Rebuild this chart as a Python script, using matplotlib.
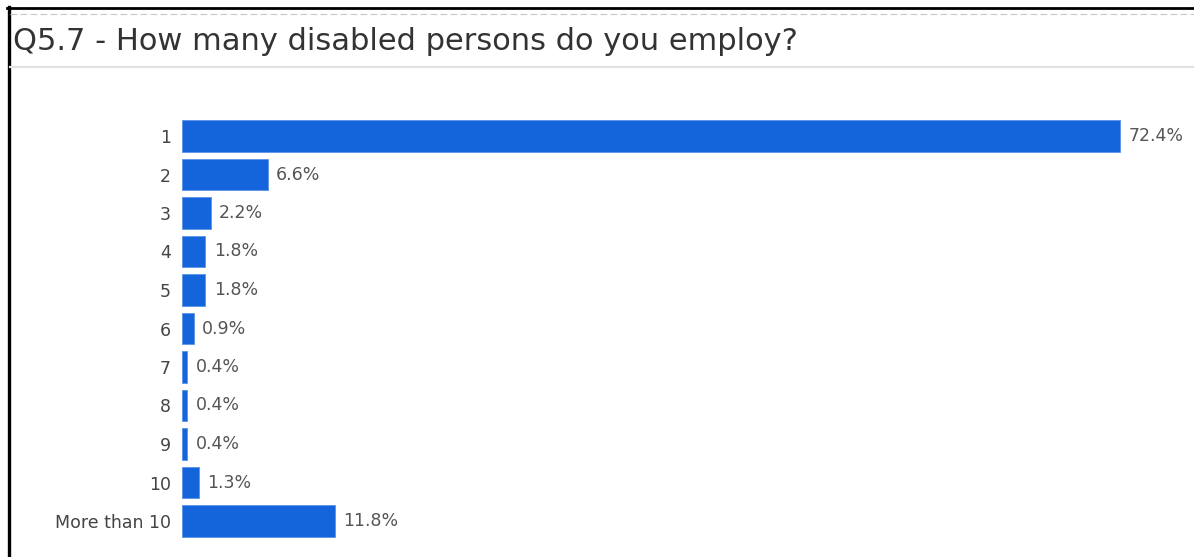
import matplotlib.pyplot as plt
from matplotlib.lines import Line2D

# survey answers and share of respondents (%)
categories = ['1', '2', '3', '4', '5', '6', '7', '8', '9', '10', 'More than 10']
percent = [72.4, 6.6, 2.2, 1.8, 1.8, 0.9, 0.4, 0.4, 0.4, 1.3, 11.8]
title = 'Q5.7 - How many disabled persons do you employ?'

W, H = 1194, 557
fig = plt.figure(figsize=(W / 100, H / 100), dpi=100)
fig.patch.set_facecolor('white')

def px(x, y):
    # pixel position (from top-left) -> figure fraction
    return x / W, 1 - y / H

# panel frame: heavy black edge on the left/top, dashed rule under it, grey divider under the title
fig.add_artist(Line2D([8.5 / W, 8.5 / W], [0, 1 - 7 / H], color='black', lw=2.4))
fig.add_artist(Line2D([7 / W, 1], [1 - 8 / H, 1 - 8 / H], color='black', lw=2.0))
fig.add_artist(Line2D([10 / W, 1], [1 - 13.5 / H, 1 - 13.5 / H], color='#c8c8c8', lw=0.8,
                      linestyle=(0, (6, 3))))
fig.add_artist(Line2D([10 / W, 1], [1 - 66.5 / H, 1 - 66.5 / H], color='#e2e2e2', lw=1.6))

tx, ty = px(13, 42)
fig.text(tx, ty, title, fontsize=22, color='#333333', family='DejaVu Sans',
         ha='left', va='center')

# bar area
left, right = 182, 1182
top, bottom = 116.75, 540.25
ax = fig.add_axes([left / W, 1 - bottom / H, (right - left) / W, (bottom - top) / H])
pos = list(range(len(categories)))
bars = ax.barh(pos, percent, height=0.83, color='#1464dc', edgecolor='#5b93e6', linewidth=0.6)
ax.set_xlim(0, 72.4 * (right - left) / (1120 - left))
ax.set_ylim(len(categories) - 0.5, -0.5)
ax.bar_label(bars, labels=[f'{v}%' for v in percent], padding=6, fontsize=12.5,
             color='#555555', family='DejaVu Sans')

ax.set_yticks(pos, categories)
ax.tick_params(axis='y', length=0, pad=8, labelsize=12.5, labelcolor='#444444')
for lab in ax.get_yticklabels():
    lab.set_family('DejaVu Sans')
ax.set_xticks([])
for s in ax.spines.values():
    s.set_visible(False)
ax.set_facecolor('none')

fig.savefig('out.png', dpi=100, facecolor='white')
